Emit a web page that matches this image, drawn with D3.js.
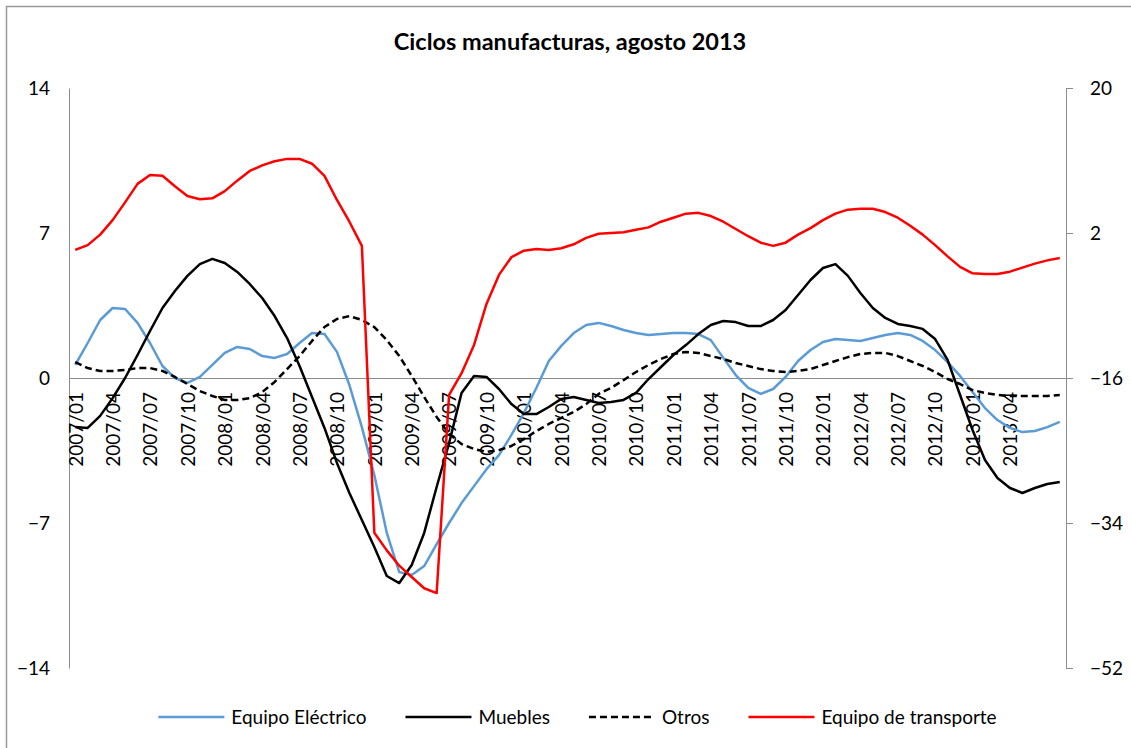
<!DOCTYPE html>
<html>
<head>
<meta charset="utf-8">
<script src="https://cdn.jsdelivr.net/npm/d3@7"></script>
<style>
  body { margin: 0; background: #fff; }
  text { font-family: Lato, "Open Sans", sans-serif; fill: #000; }
</style>
</head>
<body>
<div id="chartContainer"></div>
<script>
var width = 1131;
var height = 748;

// monthly series, 2007/01 .. 2013/08
var startYear = 2007;
var monthCount = 80;

var tickLabels = ["2007/01", "2007/04", "2007/07", "2007/10", "2008/01", "2008/04", "2008/07", "2008/10",
  "2009/01", "2009/04", "2009/07", "2009/10", "2010/01", "2010/04", "2010/07", "2010/10",
  "2011/01", "2011/04", "2011/07", "2011/10", "2012/01", "2012/04", "2012/07", "2012/10",
  "2013/01", "2013/04"];

var leftTicks = [14, 7, 0, -7, -14];
var rightTicks = [20, 2, -16, -34, -52];

var electrico = [0.63, 1.69, 2.80, 3.38, 3.33, 2.66, 1.69, 0.58, 0.00, -0.24,
  0.05, 0.63, 1.21, 1.50, 1.40, 1.06, 0.97, 1.16, 1.69, 2.17,
  2.12, 1.26, -0.34, -2.37, -4.68, -7.48, -9.37, -9.51, -9.08, -8.02,
  -7.00, -6.04, -5.22, -4.40, -3.72, -2.75, -1.69, -0.48, 0.82, 1.55,
  2.17, 2.56, 2.66, 2.51, 2.32, 2.17, 2.08, 2.12, 2.17, 2.17,
  2.12, 1.83, 0.97, 0.14, -0.48, -0.77, -0.53, 0.05, 0.82, 1.35,
  1.74, 1.88, 1.83, 1.79, 1.93, 2.08, 2.17, 2.08, 1.79, 1.35,
  0.77, 0.10, -0.68, -1.45, -2.03, -2.41, -2.61, -2.56, -2.37, -2.12];

var muebles = [-2.37, -2.41, -1.83, -0.97, 0.00, 1.11, 2.27, 3.38, 4.20, 4.93,
  5.50, 5.75, 5.55, 5.12, 4.54, 3.86, 2.99, 1.93, 0.58, -0.92,
  -2.41, -4.10, -5.55, -6.86, -8.16, -9.56, -9.90, -9.03, -7.48, -5.26,
  -3.14, -0.72, 0.10, 0.05, -0.53, -1.26, -1.74, -1.74, -1.40, -1.01,
  -0.92, -1.06, -1.21, -1.16, -1.06, -0.72, -0.05, 0.53, 1.11, 1.59,
  2.12, 2.56, 2.75, 2.70, 2.51, 2.51, 2.80, 3.28, 4.01, 4.73,
  5.31, 5.50, 4.93, 4.10, 3.38, 2.90, 2.61, 2.51, 2.37, 1.88,
  0.87, -0.82, -2.51, -3.96, -4.83, -5.31, -5.55, -5.31, -5.12, -5.02];

var otros = [0.77, 0.48, 0.34, 0.34, 0.39, 0.48, 0.48, 0.34, 0.05, -0.29,
  -0.63, -0.87, -1.06, -1.06, -0.97, -0.68, -0.19, 0.43, 1.06, 1.79,
  2.46, 2.85, 2.99, 2.80, 2.46, 1.83, 1.06, 0.10, -0.92, -1.88,
  -2.70, -3.19, -3.43, -3.57, -3.48, -3.28, -2.95, -2.56, -2.22, -1.93,
  -1.64, -1.26, -0.77, -0.48, -0.10, 0.29, 0.63, 0.92, 1.16, 1.26,
  1.21, 1.06, 0.92, 0.72, 0.58, 0.43, 0.34, 0.29, 0.34, 0.43,
  0.63, 0.82, 1.01, 1.16, 1.21, 1.21, 1.06, 0.82, 0.58, 0.29,
  -0.05, -0.29, -0.58, -0.72, -0.82, -0.87, -0.87, -0.87, -0.87, -0.82];

// right (secondary) axis
var transporte = [-0.1, 0.5, 1.8, 3.6, 5.8, 8.1, 9.2, 9.1, 7.8, 6.6,
  6.2, 6.3, 7.2, 8.5, 9.7, 10.4, 10.9, 11.2, 11.2, 10.6,
  9.1, 6.1, 3.4, 0.4, -35.2, -37.4, -39.3, -40.7, -42.1, -42.7,
  -18.1, -15.4, -11.9, -6.8, -3.2, -1.0, -0.2, 0.0, -0.1, 0.1,
  0.6, 1.4, 1.9, 2.0, 2.1, 2.4, 2.7, 3.4, 3.9, 4.4,
  4.5, 4.1, 3.4, 2.5, 1.6, 0.8, 0.4, 0.8, 1.8, 2.6,
  3.6, 4.4, 4.9, 5.0, 5.0, 4.6, 3.9, 2.9, 1.8, 0.5,
  -0.9, -2.2, -3.0, -3.1, -3.1, -2.8, -2.3, -1.8, -1.4, -1.1];

// build month names for the category axis
var months = [];
for (var i = 0; i < monthCount; i++) {
  var yr = startYear + Math.floor(i / 12);
  var mo = (i % 12) + 1;
  months.push(yr + "/" + (mo < 10 ? "0" + mo : mo));
}

var plot = {left: 69, right: 1066, top: 88, bottom: 668};
var axisGray = "#8c8c8c";

var svg = d3.select('#chartContainer')
    .append('svg')
    .attr("width", width)
    .attr("height", height);

// chart border (runs off the bottom/right of the picture)
svg.append('rect')
  .attr("x", 6.5).attr("y", 6.5)
  .attr("width", width + 20).attr("height", height + 20)
  .attr("fill", "#fff")
  .attr("stroke", "#9a9a9a")
  .attr("stroke-width", 1.5);

var xScale = d3.scalePoint().domain(months).range([plot.left, plot.right]).padding(0.5);
var yLeft = d3.scaleLinear().domain([-14, 14]).range([plot.bottom, plot.top]);
var yRight = d3.scaleLinear().domain([-52, 20]).range([plot.bottom, plot.top]);

/*** axes ***/
var leftAxis = d3.axisLeft(yLeft).tickValues(leftTicks).tickSize(0).tickPadding(19);
var leftG = svg.append('g').attr("transform", "translate(" + plot.left + ",0)").call(leftAxis);

var rightAxis = d3.axisRight(yRight).tickValues(rightTicks).tickSize(7).tickSizeOuter(0).tickPadding(17);
var rightG = svg.append('g').attr("transform", "translate(" + plot.right + ",0)").call(rightAxis);

// category axis sits on the zero line
var xAxis = d3.axisBottom(xScale).tickValues(tickLabels).tickSize(0).tickSizeOuter(0);
var xG = svg.append('g').attr("transform", "translate(0," + yLeft(0) + ")").call(xAxis);
xG.selectAll('text')
  .attr("y", 0)
  .attr("x", -14)
  .attr("dy", "0.36em")
  .attr("transform", "rotate(-90)")
  .style("text-anchor", "end")
  .style("font-size", "19px");

[leftG, rightG, xG].forEach(function(g) {
  g.select('.domain').attr("stroke", axisGray).attr("stroke-width", 1);
  g.selectAll('.tick line').attr("stroke", axisGray);
  g.attr("font-family", null).attr("font-size", null);
});
leftG.selectAll('text').style("font-size", "19px");
rightG.selectAll('text').style("font-size", "19px");

/*** series ***/
var series = [
  {name: "Equipo Eléctrico", values: electrico, color: "#5b9bd5", dash: null, scale: yLeft},
  {name: "Muebles", values: muebles, color: "#000000", dash: null, scale: yLeft},
  {name: "Otros", values: otros, color: "#000000", dash: "7,4", scale: yLeft},
  {name: "Equipo de transporte", values: transporte, color: "#ff0000", dash: null, scale: yRight}
];

var lines = svg.append('g').classed('series', true);
series.forEach(function(s) {
  var lineFunc = d3.line()
    .x(function(d, i) { return xScale(months[i]); })
    .y(function(d) { return s.scale(d); });
  lines.append('path')
    .attr('d', lineFunc(s.values))
    .attr("fill", "none")
    .attr("stroke", s.color)
    .attr("stroke-width", 2.5)
    .attr("stroke-linejoin", "round")
    .attr("stroke-dasharray", s.dash);
});

/*** title ***/
svg.append('text')
  .attr("x", 570).attr("y", 50)
  .attr("text-anchor", "middle")
  .style("font-size", "23.5px")
  .style("font-weight", "bold")
  .text("Ciclos manufacturas, agosto 2013");

/*** legend ***/
// swatch 66px, 7px to the text, 39px between entries
var legend = svg.append('g').classed('legend', true);
var legendY = 717;
var cursor = 0;
series.forEach(function(s) {
  var item = legend.append('g').attr("transform", "translate(" + cursor + ",0)");
  item.append('line')
    .attr("x1", 0).attr("x2", 66)
    .attr("y1", legendY).attr("y2", legendY)
    .attr("stroke", s.color)
    .attr("stroke-width", 2.5)
    .attr("stroke-dasharray", s.dash);
  var t = item.append('text')
    .attr("x", 73).attr("y", legendY)
    .attr("dy", "0.35em")
    .style("font-size", "19px")
    .text(s.name);
  cursor += 73 + t.node().getComputedTextLength() + 39;
});
var legendWidth = cursor - 39;
legend.attr("transform", "translate(" + (577.5 - legendWidth / 2) + ",0)");
</script>
</body>
</html>
